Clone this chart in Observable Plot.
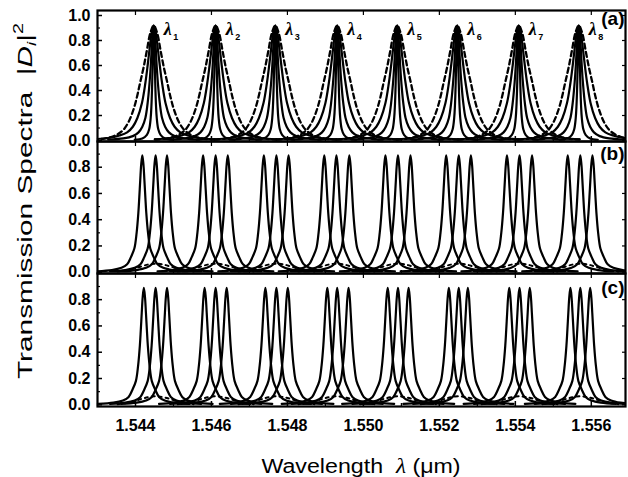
<!DOCTYPE html>
<html><head><meta charset="utf-8">
<script src="https://cdn.jsdelivr.net/npm/d3@7"></script>
<script src="https://cdn.jsdelivr.net/npm/@observablehq/plot@0.6"></script>
<style>
body{margin:0;background:#fff;}
#chart{position:relative;width:628px;height:477px;overflow:hidden;background:#fff;font-family:"Liberation Sans",Arial,sans-serif;color:#000;}
#chart svg{position:absolute;left:0;overflow:visible;}
.ytitle{position:absolute;width:420px;height:28px;line-height:28px;left:-192px;top:187px;text-align:center;transform:rotate(-90deg) scaleX(1.42);transform-origin:50% 50%;font-size:21px;white-space:nowrap;}
.xtitle{position:absolute;left:97px;width:528px;top:455px;text-align:center;font-size:20px;white-space:nowrap;transform:scaleX(1.16);transform-origin:50% 50%;}
sub{font-size:13px;vertical-align:-4px;}
sup{font-size:14px;vertical-align:9px;}
</style></head><body><div id="chart"></div>
<script>
// ---- data ----
const channelNumbers = ["1","2","3","4","5","6","7","8"];
// panel (a): channel centre wavelengths (um)
const centersA = [1.54448, 1.54611, 1.54768, 1.54931, 1.55089, 1.55247, 1.55409, 1.55567];
// panel (b): three peaks around each channel (um)
const centersB = [1.54418, 1.54453, 1.54483, 1.54578, 1.54611, 1.54643, 1.54738, 1.54771, 1.54803,
                  1.54897, 1.54929, 1.54963, 1.55058, 1.55091, 1.55124, 1.55218, 1.55251, 1.55283,
                  1.55378, 1.55411, 1.55444, 1.55538, 1.55571, 1.55603];
// panel (c): three peaks around each channel (um)
const centersC = [1.54422, 1.54453, 1.54483, 1.54582, 1.54611, 1.54640, 1.54742, 1.54771, 1.54801,
                  1.54905, 1.54931, 1.54961, 1.55064, 1.55091, 1.55119, 1.55225, 1.55251, 1.55275,
                  1.55384, 1.55411, 1.55438, 1.55545, 1.55571, 1.55597];
const groupCentersBC = [1.54453, 1.54611, 1.54771, 1.54929, 1.55091, 1.55251, 1.55411, 1.55571];

// peak profiles: offset from peak centre (nm) -> |D|^2
const dashedOffsetNm = [0, 0.09, 0.18, 0.27, 0.36, 0.44, 0.53, 0.66, 0.80, 0.95, 1.10, 1.30, 1.60];
const dashedValue    = [0.92, 0.86, 0.72, 0.58, 0.46, 0.35, 0.25, 0.15, 0.085, 0.05, 0.03, 0.015, 0.008];
const wideOffsetNm   = [0, 0.05, 0.11, 0.16, 0.22, 0.31, 0.43, 0.55, 0.70, 0.90, 1.20, 1.60];
const wideValue      = [0.92, 0.87, 0.73, 0.60, 0.46, 0.30, 0.18, 0.11, 0.065, 0.04, 0.02, 0.01];
const mediumOffsetNm = [0, 0.03, 0.055, 0.08, 0.11, 0.16, 0.22, 0.30, 0.40, 0.55, 0.80, 1.20];
const mediumValue    = [0.92, 0.85, 0.73, 0.59, 0.46, 0.30, 0.18, 0.11, 0.065, 0.035, 0.017, 0.008];
const narrowOffsetNm = [0, 0.01, 0.02, 0.03, 0.04, 0.06, 0.08, 0.12, 0.18, 0.30, 0.50];
const narrowValue    = [0.92, 0.86, 0.73, 0.59, 0.46, 0.28, 0.18, 0.09, 0.045, 0.016, 0.006];
const peakOffsetNm   = [0, 0.03, 0.055, 0.08, 0.105, 0.15, 0.21, 0.30, 0.40, 0.55, 0.80, 1.20];
const peakValue      = [0.89, 0.82, 0.70, 0.57, 0.45, 0.30, 0.18, 0.115, 0.06, 0.033, 0.016, 0.007];
const leakOffsetNm   = [0, 0.2, 0.4, 0.6, 0.8, 1.0];
const leakValue      = [0.065, 0.058, 0.042, 0.025, 0.012, 0.005];

const xTicks = [1.544, 1.546, 1.548, 1.550, 1.552, 1.554, 1.556];
const xMinorTicks = [1.543, 1.545, 1.547, 1.549, 1.551, 1.553, 1.555];
const yTicksA = [0, 0.2, 0.4, 0.6, 0.8, 1.0];
const yMinorA = [0.1, 0.3, 0.5, 0.7, 0.9];
const yTicksBC = [0, 0.2, 0.4, 0.6, 0.8];
const yMinorBC = [0.1, 0.3, 0.5, 0.7, 0.9];
const peakHeightA = 0.92;
const panelLabels = ["(a)", "(b)", "(c)"];

// ---- build curves ----
function curve(center, offs, vals, id) {
  const pts = [];
  for (let i = offs.length - 1; i > 0; i--) pts.push({x: center - offs[i] / 1000, y: vals[i], id});
  for (let i = 0; i < offs.length; i++) pts.push({x: center + offs[i] / 1000, y: vals[i], id});
  return pts;
}
const solidA = [], dashA = [];
centersA.forEach((c, k) => {
  solidA.push(...curve(c, wideOffsetNm, wideValue, "w" + k));
  solidA.push(...curve(c, mediumOffsetNm, mediumValue, "m" + k));
  solidA.push(...curve(c, narrowOffsetNm, narrowValue, "n" + k));
  dashA.push(...curve(c, dashedOffsetNm, dashedValue, "d" + k));
});
const solidB = [], solidC = [], leak = [];
centersB.forEach((c, k) => solidB.push(...curve(c, peakOffsetNm, peakValue, "b" + k)));
centersC.forEach((c, k) => solidC.push(...curve(c, peakOffsetNm, peakValue, "c" + k)));
groupCentersBC.forEach((c, k) => leak.push(...curve(c, leakOffsetNm, leakValue, "l" + k)));

const xDomain = [1.5430, 1.5569];
const font = "'Liberation Sans', Arial, sans-serif";
const root = document.getElementById("chart");

function panel({top, height, marginTop, marginBottom, yDomain, yTicks, yMinor, marks, label, labelDy, showX}) {
  const axes = [
    Plot.axisY(yTicks, {anchor: "left", label: null, tickSize: -5, tickPadding: 12, tickFormat: d3.format(".1f"),
      fontSize: 16, fontWeight: "bold", fontFamily: font, strokeWidth: 1.5}),
    Plot.axisY(yMinor, {anchor: "left", label: null, tickSize: -3, tickFormat: () => "", strokeWidth: 1.2}),
    Plot.axisY(yTicks, {anchor: "right", label: null, tickSize: -4, tickFormat: () => "", strokeWidth: 1.2}),
    Plot.axisX(xTicks, {anchor: "bottom", label: null, tickSize: -5, tickPadding: showX ? 18 : 0,
      tickFormat: showX ? d3.format(".3f") : () => "", fontSize: 16, fontWeight: "bold", fontFamily: font, strokeWidth: 1.5}),
    Plot.axisX(xMinorTicks, {anchor: "bottom", label: null, tickSize: -3, tickFormat: () => "", strokeWidth: 1.2}),
    Plot.axisX(xTicks, {anchor: "top", label: null, tickSize: -4, tickFormat: () => "", strokeWidth: 1.2})
  ];
  const svg = Plot.plot({
    width: 628, height, marginLeft: 97, marginRight: 3, marginTop, marginBottom,
    x: {domain: xDomain, axis: null},
    y: {domain: yDomain, axis: null},
    style: {fontFamily: font, background: "transparent", overflow: "visible"},
    marks: [
      ...marks,
      ...axes,
      Plot.text([label], {frameAnchor: "top-right", text: d => d, dx: -1, dy: labelDy,
        fontSize: 19, fontWeight: "bold", fontFamily: font, lineAnchor: "middle", textAnchor: "end"}),
      Plot.frame({stroke: "black", strokeWidth: 2.2})
    ]
  });
  svg.style.top = top + "px";
  root.appendChild(svg);
}

panel({
  top: 0, height: 141, marginTop: 10, marginBottom: 0, yDomain: [-0.008, 1.04],
  yTicks: yTicksA, yMinor: yMinorA, label: panelLabels[0], labelDy: 8, showX: false,
  marks: [
    Plot.line(dashA, {x: "x", y: "y", z: "id", stroke: "black", strokeWidth: 2.3, strokeDasharray: "5,3.5", curve: "catmull-rom", clip: true}),
    Plot.line(solidA, {x: "x", y: "y", z: "id", stroke: "black", strokeWidth: 2.2, curve: "catmull-rom", clip: true}),
    Plot.text(centersA, {x: d => d, y: () => peakHeightA, text: () => "λ", dx: 14, dy: 4,
      fontSize: 18, fontStyle: "italic", fontWeight: "bold", fontFamily: "'Liberation Serif', 'DejaVu Serif', serif"}),
    Plot.text(centersA, {x: d => d, y: () => peakHeightA, text: (d, i) => channelNumbers[i], dx: 22, dy: 12,
      fontSize: 9, fontWeight: "bold", fontFamily: font})
  ]
});

panel({
  top: 141, height: 132, marginTop: 0, marginBottom: 0, yDomain: [-0.01, 0.996],
  yTicks: yTicksBC, yMinor: yMinorBC, label: panelLabels[1], labelDy: 12, showX: false,
  marks: [
    Plot.line(leak, {x: "x", y: "y", z: "id", stroke: "black", strokeWidth: 2, strokeDasharray: "3,4", curve: "catmull-rom", clip: true}),
    Plot.line(solidB, {x: "x", y: "y", z: "id", stroke: "black", strokeWidth: 2.2, curve: "catmull-rom", clip: true})
  ]
});

panel({
  top: 273, height: 204, marginTop: 0, marginBottom: 71, yDomain: [-0.013, 0.999],
  yTicks: yTicksBC, yMinor: yMinorBC, label: panelLabels[2], labelDy: 14, showX: true,
  marks: [
    Plot.line(leak, {x: "x", y: "y", z: "id", stroke: "black", strokeWidth: 2, strokeDasharray: "3,4", curve: "catmull-rom", clip: true}),
    Plot.line(solidC, {x: "x", y: "y", z: "id", stroke: "black", strokeWidth: 2.2, curve: "catmull-rom", clip: true})
  ]
});

const yt = document.createElement("div");
yt.className = "ytitle";
yt.innerHTML = "Transmission Spectra&nbsp;&nbsp;|<i>D</i><sub><i>i</i></sub>|<sup>2</sup>";
root.appendChild(yt);
const xt = document.createElement("div");
xt.className = "xtitle";
xt.innerHTML = "Wavelength&nbsp;&nbsp;<i style=\"font-family:'Liberation Serif',serif\">λ</i> (μm)";
root.appendChild(xt);
</script></body></html>
